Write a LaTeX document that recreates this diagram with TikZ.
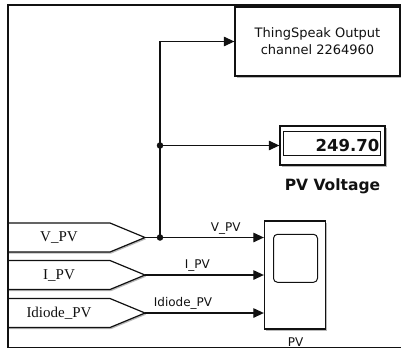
\documentclass[tikz,border=0pt]{standalone}
\usepackage{fontspec}
\setmainfont{Liberation Serif}
\setsansfont{DejaVu Sans}
\usetikzlibrary{arrows.meta,positioning,shadows}
\definecolor{blkInk}{HTML}{111111}
\definecolor{blkShadow}{HTML}{8A8A8A}
\tikzset{
  every picture/.style={text=blkInk},
  blk box/.style={draw=blkInk, line width=1.3pt, fill=white, inner sep=0pt,
    drop shadow={shadow xshift=1.6pt, shadow yshift=-1.6pt, fill=blkShadow, opacity=.6}},
  blk inner/.style={draw=blkInk, line width=1pt, inner sep=0pt},
  blk tag/.style={draw=blkInk, line width=1.2pt, fill=white,
    drop shadow={shadow xshift=1.2pt, shadow yshift=-1.6pt, fill=blkShadow, opacity=.6}},
  blk tag text/.style={font=\fontsize{15}{17}\selectfont, inner sep=0pt},
  blk signal/.style={draw=blkInk, line width=1.2pt},
  blk arrow/.style={-{Triangle[length=10.5pt,width=9.5pt]}, draw=blkInk, line width=1.2pt},
  blk label/.style={font=\sffamily\fontsize{12}{14}\selectfont, inner sep=3pt},
  blk dot/.style={circle, fill=blkInk, inner sep=0pt, minimum size=6.5pt},
  blk frame/.style={draw=blkInk, line width=2.2pt}
}

\begin{document}
\begin{tikzpicture}[x=1pt,y=-1pt]
  \useasboundingbox (0,0) rectangle (401,349);
  % blocks on the right
  \node[blk box, minimum width=165pt, minimum height=69pt, align=center,
    font=\sffamily\fontsize{13}{17}\selectfont] (ts) at (317.5,41.5) {ThingSpeak Output\\channel 2264960};
  \node[blk box, minimum width=105pt, minimum height=39pt] (disp) at (332.5,145.5) {};
  \node[blk inner, minimum width=97.5pt, minimum height=24.5pt] (dispin) at (332.2,143.3) {};
  \node[anchor=base east, inner sep=0pt, font=\sffamily\bfseries\fontsize{16.5}{18}\selectfont] (dispval) at (379.5,151.7) {249.70};
  \node[anchor=base, inner sep=0pt, font=\sffamily\bfseries\fontsize{15.5}{18}\selectfont] (dispname) at (332.5,190) {PV Voltage};
  \node[blk box, minimum width=61pt, minimum height=108pt] (scope) at (295,275) {};
  \node[blk inner, rounded corners=4pt, minimum width=44pt, minimum height=48pt] (screen) at (295.5,258.3) {};
  \node[blk label, anchor=base, inner sep=0pt] (scopename) at (295.7,346.5) {PV};

  % goto tags
  \foreach \tname/\ttext/\ty in {vpv/V\_PV/237.5, ipv/I\_PV/275, idpv/Idiode\_PV/313}{
    \draw[blk tag] (8,\ty-14.5) -- (110,\ty-14.5) -- (145,\ty) -- (110,\ty+14.5) -- (8,\ty+14.5);
    \coordinate (\tname) at (145,\ty);
    \node[blk tag text] (\tname txt) at (59,\ty+0.5) {\ttext};
  }

  % signals
  \node[blk dot] (jv) at (160,237.5) {};
  \node[blk dot] (jd) at (jv |- disp.west) {};
  \draw[blk arrow] (vpv) -- (vpv -| scope.west) node[blk label, above, pos=0.68] {V\_PV};
  \draw[blk arrow] (ipv) -- (ipv -| scope.west) node[blk label, above, pos=0.44] {I\_PV};
  \draw[blk arrow] (idpv) -- (idpv -| scope.west) node[blk label, above, pos=0.32] {Idiode\_PV};
  \draw[blk arrow] (jv.center) |- (ts.west);
  \draw[blk arrow] (jd.center) -- (disp.west);

  % frame
  \draw[blk frame] (401,5) -- (8,5) -- (8,347.5);
  \draw[blk signal, line width=1.5pt] (8,347.5) -- (401,347.5);
\end{tikzpicture}
\end{document}
